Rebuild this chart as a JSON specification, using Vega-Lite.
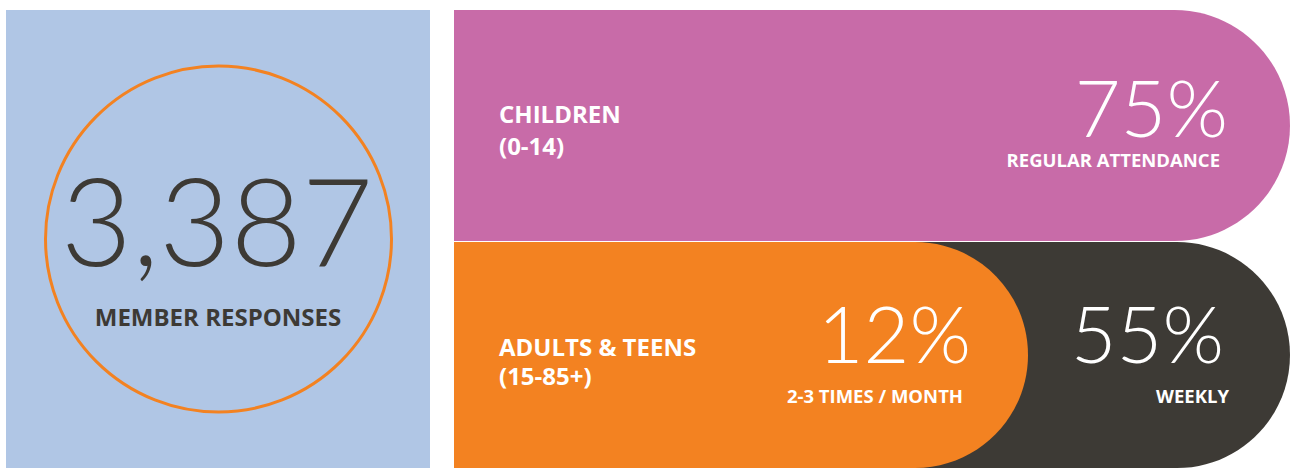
{
  "$schema": "https://vega.github.io/schema/vega-lite/v6.json",
  "width": 1293,
  "height": 468,
  "autosize": {"type": "fit", "contains": "padding"},
  "padding": 0,
  "background": "white",
  "config": {"view": {"stroke": null}},
  "datasets": {
    "panel": [{"name": "panel", "x0": 6, "x1": 430, "y0": 10, "y1": 468}],
    "children": [{"name": "children", "x0": 454, "x1": 1290, "y0": 10, "y1": 241}],
    "weekly": [{"name": "weekly", "x0": 454, "x1": 1290, "y0": 242, "y1": 468}],
    "monthly": [{"name": "monthly", "x0": 454, "x1": 1028, "y0": 242, "y1": 468}],
    "ring": [{"x": 218.5, "y": 239}],
    "total": [{"label": "3,387", "x": 217, "y": 266}],
    "totalLabel": [{"label": "MEMBER RESPONSES", "x": 218, "y": 326}],
    "pct": [
      {"label": "75%", "x": 1228, "y": 137},
      {"label": "12%", "x": 971, "y": 363},
      {"label": "55%", "x": 1224, "y": 363}
    ],
    "groups": [
      {"label": "CHILDREN", "x": 499, "y": 123},
      {"label": "(0-14)", "x": 499, "y": 155},
      {"label": "ADULTS & TEENS", "x": 499, "y": 356},
      {"label": "(15-85+)", "x": 499, "y": 385}
    ],
    "subs": [
      {"label": "REGULAR ATTENDANCE", "x": 1220, "y": 167},
      {"label": "2-3 TIMES / MONTH", "x": 963, "y": 403},
      {"label": "WEEKLY", "x": 1229, "y": 403}
    ]
  },
  "layer": [
    {
      "data": {"name": "panel"},
      "mark": {"type": "rect", "color": "#b0c6e5"},
      "encoding": {
        "x": {"field": "x0", "type": "quantitative", "scale": {"domain": [0, 1293], "nice": false, "zero": false}, "axis": null},
        "x2": {"field": "x1"},
        "y": {"field": "y0", "type": "quantitative", "scale": {"domain": [0, 468], "nice": false, "zero": false, "reverse": true}, "axis": null},
        "y2": {"field": "y1"}
      }
    },
    {
      "data": {"name": "children"},
      "mark": {"type": "rect", "color": "#c86ba8", "cornerRadiusTopRight": 115.5, "cornerRadiusBottomRight": 115.5},
      "encoding": {
        "x": {"field": "x0", "type": "quantitative", "axis": null},
        "x2": {"field": "x1"},
        "y": {"field": "y0", "type": "quantitative", "axis": null},
        "y2": {"field": "y1"}
      }
    },
    {
      "data": {"name": "weekly"},
      "mark": {"type": "rect", "color": "#3d3a35", "cornerRadiusTopRight": 113, "cornerRadiusBottomRight": 113},
      "encoding": {
        "x": {"field": "x0", "type": "quantitative", "axis": null},
        "x2": {"field": "x1"},
        "y": {"field": "y0", "type": "quantitative", "axis": null},
        "y2": {"field": "y1"}
      }
    },
    {
      "data": {"name": "monthly"},
      "mark": {"type": "rect", "color": "#f38221", "cornerRadiusTopRight": 113, "cornerRadiusBottomRight": 113},
      "encoding": {
        "x": {"field": "x0", "type": "quantitative", "axis": null},
        "x2": {"field": "x1"},
        "y": {"field": "y0", "type": "quantitative", "axis": null},
        "y2": {"field": "y1"}
      }
    },
    {
      "data": {"name": "ring"},
      "mark": {"type": "point", "shape": "circle", "filled": false, "size": 119716, "stroke": "#f38221", "strokeWidth": 3, "opacity": 1},
      "encoding": {
        "x": {"field": "x", "type": "quantitative", "axis": null},
        "y": {"field": "y", "type": "quantitative", "axis": null}
      }
    },
    {
      "data": {"name": "total"},
      "mark": {"type": "text", "font": "Lato", "fontWeight": 300, "fontSize": 123, "color": "#3d3a35", "align": "center", "baseline": "alphabetic"},
      "encoding": {
        "x": {"field": "x", "type": "quantitative", "axis": null},
        "y": {"field": "y", "type": "quantitative", "axis": null},
        "text": {"field": "label"}
      }
    },
    {
      "data": {"name": "totalLabel"},
      "mark": {"type": "text", "font": "Open Sans", "fontWeight": "bold", "fontSize": 24, "color": "#3d3a35", "align": "center", "baseline": "alphabetic"},
      "encoding": {
        "x": {"field": "x", "type": "quantitative", "axis": null},
        "y": {"field": "y", "type": "quantitative", "axis": null},
        "text": {"field": "label"}
      }
    },
    {
      "data": {"name": "pct"},
      "mark": {"type": "text", "font": "Lato", "fontWeight": 300, "fontSize": 79, "color": "white", "align": "right", "baseline": "alphabetic"},
      "encoding": {
        "x": {"field": "x", "type": "quantitative", "axis": null},
        "y": {"field": "y", "type": "quantitative", "axis": null},
        "text": {"field": "label"}
      }
    },
    {
      "data": {"name": "groups"},
      "mark": {"type": "text", "font": "Open Sans", "fontWeight": "bold", "fontSize": 24, "color": "white", "align": "left", "baseline": "alphabetic"},
      "encoding": {
        "x": {"field": "x", "type": "quantitative", "axis": null},
        "y": {"field": "y", "type": "quantitative", "axis": null},
        "text": {"field": "label"}
      }
    },
    {
      "data": {"name": "subs"},
      "mark": {"type": "text", "font": "Open Sans", "fontWeight": "bold", "fontSize": 18.5, "color": "white", "align": "right", "baseline": "alphabetic"},
      "encoding": {
        "x": {"field": "x", "type": "quantitative", "axis": null},
        "y": {"field": "y", "type": "quantitative", "axis": null},
        "text": {"field": "label"}
      }
    }
  ]
}
